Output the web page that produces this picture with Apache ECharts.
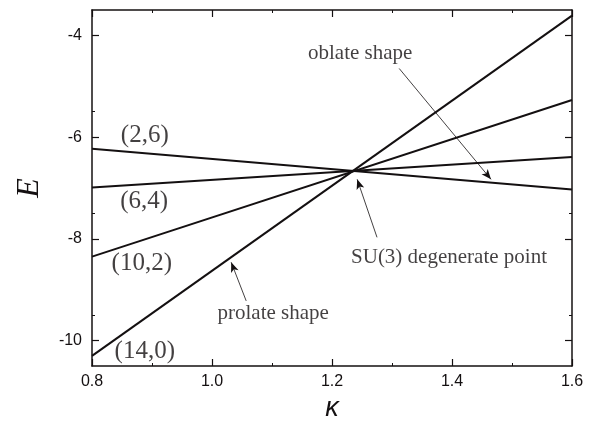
<!DOCTYPE html>
<html>
<head>
<meta charset="utf-8">
<script src="https://cdn.jsdelivr.net/npm/echarts@6/dist/echarts.min.js"></script>
<style>
  html, body { margin: 0; padding: 0; background: #fff; }
  #chart { width: 599px; height: 421px; }
</style>
</head>
<body>
<div id="chart"></div>
<script>
// kappa at the two ends of the plotted range
const kappa = [0.8, 1.6]
// energies of each (λ,μ) band at those two ends
const e26  = [-6.23, -7.03]
const e64  = [-6.99, -6.39]
const e102 = [-8.35, -5.27]
const e140 = [-10.3, -3.61]

const bandLabels = ['(2,6)', '(6,4)', '(10,2)', '(14,0)']
const bandLabelPos = [[0.888, -5.97], [0.887, -7.26], [0.883, -8.48], [0.888, -10.22]]

const noteText = ['oblate shape', 'SU(3) degenerate point', 'prolate shape']
const notePos = [[1.247, -4.36], [1.395, -8.36], [1.102, -9.47]]
const arrowFrom = [[1.312, -4.65], [1.275, -7.97], [1.057, -9.22]]
const arrowTo   = [[1.465, -6.83], [1.242, -6.83], [1.032, -8.46]]

const ink = '#141011'
const serif = '"Liberation Serif", "DejaVu Serif", serif'
const sans = '"Liberation Sans", Arial, sans-serif'

function band(vals) {
  return {
    type: 'line',
    data: kappa.map((k, i) => [k, vals[i]]),
    symbol: 'none',
    lineStyle: { color: ink, width: 2 },
    silent: true,
    z: 3,
  }
}

const axisBase = {
  type: 'value',
  axisLine: { show: true, onZero: false, lineStyle: { color: ink, width: 1.5 } },
  axisTick: { show: true, inside: true, length: 7, lineStyle: { color: ink, width: 1.2 } },
  minorTick: { show: true, splitNumber: 2, length: 3, lineStyle: { color: ink, width: 1 } },
  splitLine: { show: false },
}
const yTicks = [-10, -8, -6, -4]

const chart = echarts.init(document.getElementById('chart'), null, { renderer: 'canvas' })
chart.setOption({
  backgroundColor: '#ffffff',
  animation: false,
  grid: { left: 92, right: 27, top: 10, bottom: 55, outerBoundsMode: 'none', containLabel: false },
  xAxis: [
    {
      ...axisBase,
      min: 0.8, max: 1.6, interval: 0.2,
      name: 'κ',
      nameLocation: 'middle',
      nameGap: 28,
      nameTextStyle: { color: ink, fontSize: 27, fontStyle: 'italic', fontFamily: sans },
      axisLabel: {
        color: ink, fontSize: 16, fontFamily: sans, margin: 8,
        formatter: v => v.toFixed(1),
      },
    },
    {
      ...axisBase,
      position: 'top',
      min: 0.8, max: 1.6, interval: 0.2,
      axisLabel: { show: false },
    },
  ],
  yAxis: [
    {
      ...axisBase,
      min: -10.5, max: -3.5, interval: 2,
      name: 'E',
      nameLocation: 'middle',
      nameRotate: 90,
      nameGap: 46,
      nameTextStyle: { color: ink, fontSize: 32, fontStyle: 'italic', fontFamily: serif },
      axisLabel: {
        color: ink, fontSize: 16, fontFamily: sans, margin: 10,
        customValues: yTicks,
      },
      axisTick: { ...axisBase.axisTick, customValues: yTicks },
    },
    {
      ...axisBase,
      position: 'right',
      min: -10.5, max: -3.5, interval: 2,
      axisLabel: { show: false },
      axisTick: { ...axisBase.axisTick, customValues: yTicks },
    },
  ],
  series: [
    band(e26),
    band(e64),
    band(e102),
    band(e140),
    {
      type: 'scatter',
      symbolSize: 0,
      silent: true,
      data: bandLabelPos.map((p, i) => ({ value: p, name: bandLabels[i] })),
      label: {
        show: true, position: 'inside', formatter: '{b}',
        color: ink, fontSize: 25, fontFamily: serif,
      },
      z: 5,
    },
    {
      type: 'scatter',
      symbolSize: 0,
      silent: true,
      data: notePos.map((p, i) => ({ value: p, name: noteText[i] })),
      label: {
        show: true, position: 'inside', formatter: '{b}',
        color: ink, fontSize: 21, fontFamily: serif,
      },
      markLine: {
        silent: true,
        symbol: ['none', 'arrow'],
        symbolSize: [6, 10],
        label: { show: false },
        lineStyle: { color: ink, width: 0.8, type: 'solid' },
        data: arrowFrom.map((a, i) => [{ coord: a }, { coord: arrowTo[i] }]),
      },
      z: 5,
    },
  ],
})
</script>
</body>
</html>
